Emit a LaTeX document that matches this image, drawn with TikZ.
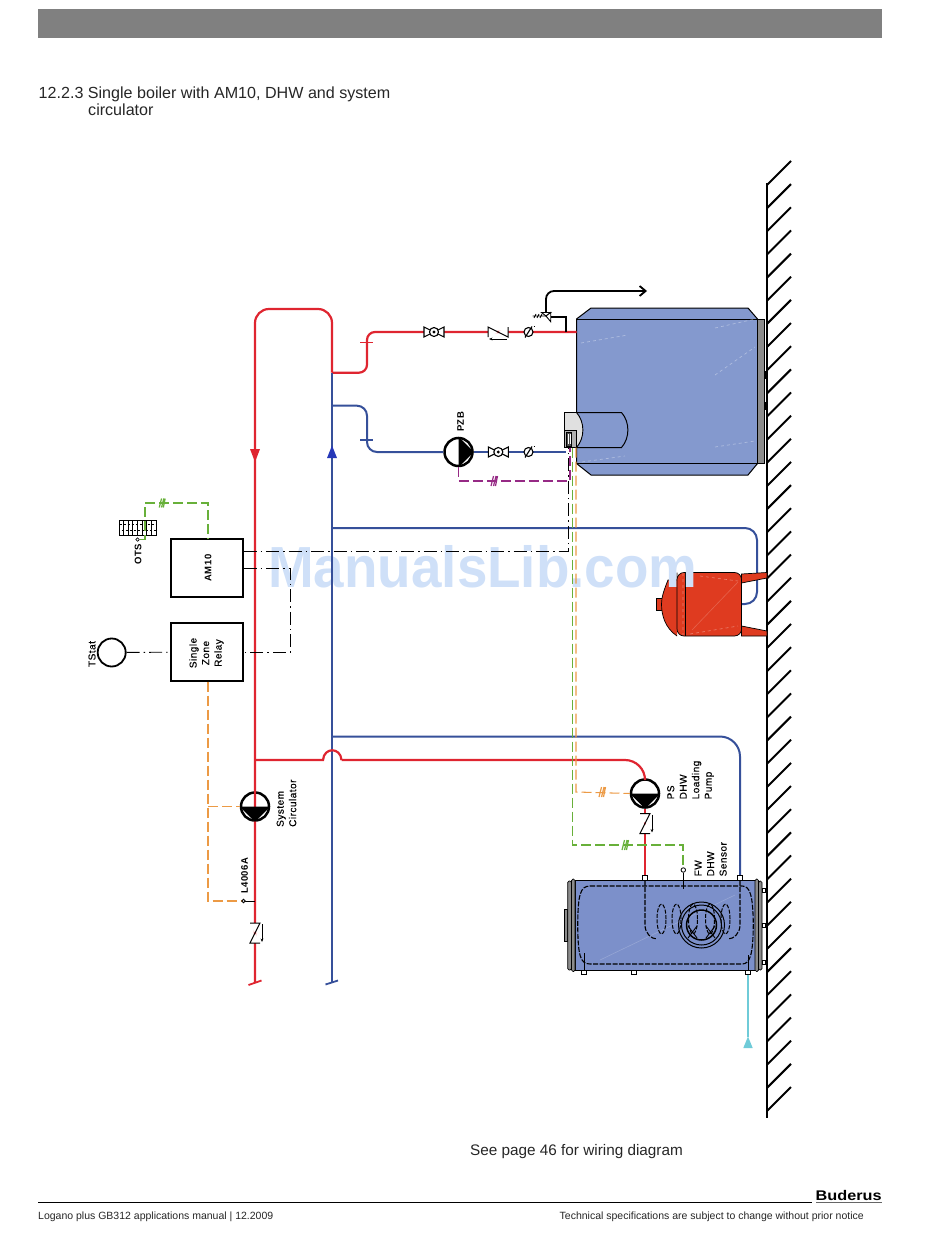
\documentclass[tikz,border=0pt]{standalone}
\usepackage{fontspec}
\setmainfont{Liberation Sans}
\newfontfamily\lblfont[LetterSpace=5,FakeBold=0.3]{Liberation Sans}
\newfontfamily\lblheavy[LetterSpace=5]{Liberation Sans}
\usetikzlibrary{arrows.meta}

\definecolor{boilerblue}{HTML}{8499CE}
\definecolor{tankblue}{HTML}{7C90CA}
\definecolor{hotred}{HTML}{DF2530}
\definecolor{coldblue}{HTML}{36509A}
\definecolor{vesselred}{HTML}{DF3B20}
\definecolor{sigorange}{HTML}{EC9A45}
\definecolor{siggreen}{HTML}{68B03A}
\definecolor{sigpurple}{HTML}{962A85}
\definecolor{coldcyan}{HTML}{6FCBD8}
\definecolor{markclr}{HTML}{CFE0F8}

\tikzset{
  hotpipe/.style={draw=hotred, line width=2.2pt, rounded corners=12pt},
  coldpipe/.style={draw=coldblue, line width=2pt, rounded corners=12pt},
  sigline/.style={line width=1.05pt, dash pattern=on 10pt off 4pt},
  ctrlline/.style={black, line width=0.9pt, dash pattern=on 13pt off 4pt on 1.5pt off 4pt},
  pumpball/.style={circle, draw, fill=white, line width=2.5pt, minimum size=28pt, inner sep=0pt},
  ctrlbox/.style={draw, line width=1.3pt, minimum width=72pt, minimum height=58pt, inner sep=0pt},
  lbl/.style={font=\lblfont\fontsize{10}{12.5}\selectfont, rotate=90, align=left, anchor=north west, inner sep=0pt},
  lblb/.style={font=\lblheavy\bfseries\fontsize{9.5}{12}\selectfont, rotate=90, inner sep=0pt},
  pagetxt/.style={anchor=base west, inner sep=0pt, text=black!85},
  swingcheck/.pic={
    \draw[line width=1pt, fill=white] (-5,-10) -- (5,-10) -- (-5,10) -- (5,10);
    \draw[line width=0.7pt, -{Stealth[length=3.5pt,width=2.8pt]}] (7,-9) -- (7,9);
  },
  ballvalve/.pic={
    \draw[line width=1.1pt, fill=white] (-10,-5) -- (10,5) -- (10,-5) -- (-10,5) -- cycle;
    \draw[line width=1.1pt, fill=white] (0,0) circle [radius=4.5pt];
    \fill (0,0) circle [radius=1.6pt];
  },
  gauge/.pic={
    \draw[line width=1.1pt, fill=white] (0,0) circle [radius=4.5pt];
    \draw[line width=1.1pt] (-3.5,5.5) -- (3.5,-5.5);
    \draw[line width=0.6pt] (5,-6) -- (6.5,-6);
  },
  hashmark/.pic={
    \draw[line width=1.2pt] (-3,5) -- (-0.5,-5) (-0.5,5) -- (2,-5) (1.5,5) -- (3.5,-5);
  },
}

\begin{document}
\begin{tikzpicture}[x=1pt,y=-1pt]
  \useasboundingbox (0,0) rectangle (950,1241);

  % page furniture
  \fill[black!50] (38,9) rectangle (882,38);
  \node[pagetxt, font=\fontsize{16.1}{17}\selectfont] (title) at (38.5,99) {12.2.3 Single boiler with AM10, DHW and system};
  \node[pagetxt, font=\fontsize{16.1}{17}\selectfont] (title2) at (88,116) {circulator};
  \node[pagetxt, font=\fontsize{15.3}{17}\selectfont] (seepage) at (470,1155) {See page 46 for wiring diagram};
  \node[pagetxt, font=\fontsize{10.5}{12}\selectfont] (footl) at (38,1219) {Logano plus GB312 applications manual | 12.2009};
  \node[pagetxt, font=\fontsize{10.5}{12}\selectfont] (footr) at (559.5,1219) {Technical specifications are subject to change without prior notice};
  \node[anchor=base west, inner sep=0pt, font=\bfseries\fontsize{14}{14}\selectfont, xscale=1.16] (brand) at (815.5,1200) {Buderus};
  \draw[line width=0.9pt] (38,1202.5) -- (811.5,1202.5);
  \draw[black!60, line width=1.3pt] (816,1202.5) -- (882,1202.5);

  % wall
  \draw[line width=1.2pt] (767,183) -- (767,1118);
  \foreach \y in {0,...,40}
    \draw[line width=2pt] (767,185+23.15*\y) -- (791,161+23.15*\y);

  % boiler
  \draw[fill=boilerblue, line width=1pt] (576.5,319) -- (591,308) -- (748,308) -- (757.5,319) -- (757.5,463.5) -- (748,475) -- (591,475) -- (576.5,463.5) -- cycle;
  \draw[line width=1pt] (576.5,319) -- (757.5,319) (576.5,463.5) -- (757.5,463.5);
  \draw[fill=black!45, line width=0.5pt] (757.5,319) rectangle (764.5,463.5);
  \foreach \y in {375,406}
    \fill (764.5,\y-4) rectangle (766.5,\y+4);
  \draw[white, opacity=0.35, line width=0.7pt, dashed] (581,343) -- (628,335) (715,328) -- (755,319) (715,375) -- (755,347) (715,447) -- (755,441) (582,462) -- (625,456);

  % burner
  \draw[fill=boilerblue, line width=1pt] (576.5,412.5) -- (621.5,412.5) .. controls (630,422) and (630,438) .. (621.5,447.5) -- (576.5,447.5);
  \draw[fill=black!12, line width=0.9pt] (564.5,412.5) -- (576.5,412.5) .. controls (585,422) and (585,438) .. (576.5,447.5) -- (564.5,447.5) -- cycle;
  \draw[fill=black!30, line width=0.8pt] (564.5,430.5) rectangle (576.5,447.5);
  \draw[fill=black!70, line width=0.5pt] (566.5,432) rectangle (571.5,446);
  \draw[white, line width=0.6pt] (568,434) -- (568,444) (570,434) -- (570,444);

  % expansion vessel and its branch
  \coordinate (mainbranch1) at (332,528);
  \coordinate (vesselin) at (742,604);
  \draw[coldpipe] (mainbranch1) -- (757,528) -- (757,604) -- (vesselin);
  \draw[fill=vesselred, line width=0.7pt] (741.5,574) -- (767,572.5) -- (767,578) -- (741.5,583) -- cycle;
  \draw[fill=vesselred, line width=0.7pt] (741.5,626) -- (767,631) -- (767,636) -- (741.5,636) -- cycle;
  \draw[fill=vesselred, line width=0.7pt] (656.5,598) rectangle (662.5,610);
  \draw[fill=vesselred, line width=0.7pt] (677,572.5) -- (677,580) -- (668,580) .. controls (664,590) and (661.5,597) .. (661.5,604) .. controls (661.5,615) and (665,628) .. (677,636);
  \draw[fill=vesselred, line width=0.7pt, rounded corners=7pt] (677,572.5) -- (741.5,572.5) -- (741.5,636) -- (677,636) -- cycle;
  \draw[line width=0.7pt] (685,572.5) -- (685,636);
  \draw[white, opacity=0.35, line width=0.6pt, dashed] (683,573) -- (683,635) (700,576) -- (738,581) (690,634) -- (738,626);
  \draw[white, opacity=0.2, line width=0.6pt] (692,630) -- (738,582);

  \node[anchor=base west, inner sep=0pt, text=markclr, font=\bfseries\fontsize{58}{58}\selectfont, xscale=0.945] (watermark) at (268,587) {ManualsLib.com};

  % boxes
  \node[ctrlbox] (am10) at (207,568) {};
  \node[lblb] (am10txt) at (208,568) {AM10};
  \node[ctrlbox] (relay) at (207,652) {};
  \node[lbl, anchor=center, align=center] (relaytxt) at (206.5,653) {Single\\Zone\\Relay};
  \node[circle, draw, line width=1.8pt, minimum size=28pt, inner sep=0pt] (tstat) at (111.7,652.5) {};
  \node[lbl, anchor=center] (tstattxt) at (92,654) {TStat};

  % outdoor sensor
  \node[draw, line width=0.9pt, minimum width=37pt, minimum height=15pt, inner sep=0pt] (ots) at (138,527.5) {};
  \foreach \x in {123.6,128.2,132.8,137.4,142,146.6,151.2}
    \draw[line width=0.7pt] (\x,520) -- (\x,535);
  \draw[line width=0.6pt, dash pattern=on 2pt off 2pt] (119.5,524.5) -- (156.5,524.5);
  \draw[line width=0.6pt, dash pattern=on 2pt off 2pt, dash phase=2pt] (119.5,530.5) -- (156.5,530.5);
  \node[circle, draw, line width=0.7pt, fill=white, minimum size=3.5pt, inner sep=0pt] (otsdot) at (137.5,539.5) {};
  \node[lblb] (otstxt) at (138,554) {OTS};

  % hot side
  \coordinate (drop) at (255,983);
  \coordinate (boilerhot) at (576.5,332);
  \coordinate (headerhot) at (332,372.7);
  \node[pumpball] (syspump) at (255,806.5) {};
  \draw[hotpipe, rounded corners=14pt] (drop) -- (255,309) -- (332,309) -- (headerhot);
  \draw[hotpipe, rounded corners=8pt] (headerhot) -- (367,372.7) -- (367,332) -- (boilerhot);
  \draw[draw=hotred, line width=1.2pt] (360,342.5) -- (373,342.5);
  \fill[hotred] (250,449) -- (260,449) -- (255,462) -- cycle;
  \draw[hotred, line width=1.8pt] (248.5,985) -- (261.5,980.5);

  % cold side
  \coordinate (dropc) at (332,983);
  \coordinate (boilercold) at (566,452);
  \node[pumpball] (pzbpump) at (458.5,452) {};
  \draw[coldpipe] (dropc) -- (headerhot);
  \draw[coldpipe, rounded corners=10pt] (332,405.7) -- (367,405.7) -- (367,452) -- (pzbpump);
  \draw[coldpipe] (pzbpump) -- (boilercold);
  \draw[draw=coldblue, line width=1.2pt] (360,440) -- (373,440);
  \fill[coldblue!70!blue] (327,458) -- (337,458) -- (332,445.5) -- cycle;
  \draw[coldblue, line width=1.8pt] (325.5,984.5) -- (338,980.5);

  % loading circuit
  \node[pumpball] (pspump) at (645,793.5) {};
  \coordinate (coilin) at (645,875);
  \coordinate (coilout) at (740,875);
  \coordinate (hop1) at (323,760);
  \coordinate (hop2) at (341.5,760);
  \draw[hotred, line width=2.2pt] (255,760) -- (hop1) .. controls (324,747) and (340.5,747) .. (hop2);
  \draw[hotpipe, rounded corners=20pt] (hop2) -- (645,760) -- (pspump);
  \draw[hotred, line width=2.2pt] (pspump) -- (coilin);
  \draw[coldpipe, rounded corners=20pt] (332,736.5) -- (740,736.5) -- (coilout);

  % storage tank
  \draw[fill=tankblue, line width=1pt] (575,880.5) rectangle (755,970);
  \draw[fill=black!45, line width=0.5pt] (564,909.5) rectangle (567.7,941.5);
  \draw[fill=black!45, line width=0.7pt, rounded corners=1.5pt] (567.7,881) rectangle (571.5,970);
  \draw[fill=black!45, line width=0.7pt, rounded corners=1.5pt] (571.5,879) rectangle (575,971.5);
  \draw[fill=black!45, line width=0.7pt, rounded corners=1.5pt] (755,879) rectangle (758.5,971.5);
  \draw[fill=black!45, line width=0.7pt, rounded corners=1.5pt] (758.5,881) rectangle (762,970);
  \foreach \y in {890,925,962.5}
    \draw[fill=white, line width=0.7pt] (762,\y-2) rectangle (765,\y+2);
  \foreach \x in {645,740}
    \draw[fill=white, line width=0.8pt] (\x-2.5,875) rectangle (\x+2.5,880.5);
  \foreach \x in {584,633.5,748}
    \draw[fill=white, line width=0.8pt] (\x-2.5,970) rectangle (\x+2.5,974.5);
  \draw[line width=0.9pt] (584,970) -- (584,953) (748,970) -- (748,955) (683.3,873) -- (683.3,889);
  \draw[white, opacity=0.2, line width=0.6pt] (600,960) -- (735,895);
  \draw[line width=1.1pt, dash pattern=on 5pt off 1.5pt] (590,886) -- (742,886) .. controls (750,886) and (753,895) .. (753.3,925) .. controls (753,955) and (750,964) .. (742,964) -- (590,964) .. controls (580,964) and (578,955) .. (577.7,925) .. controls (578,895) and (580,886) .. (590,886);
  \draw[line width=1.1pt, dash pattern=on 5pt off 1.5pt] (645,880.5) -- (645,925) .. controls (645,933) and (651,939) .. (657,939) (740,880.5) -- (740,925) .. controls (740,933) and (734,939) .. (728,939);
  \foreach \x in {661.5,676.5,693,710,725.5}
    \draw[line width=1pt, dash pattern=on 4pt off 1.5pt] (\x,919) ellipse [x radius=4.5pt, y radius=15pt];
  \foreach \r in {23,20}
    \draw[line width=1pt] (701.5,925) circle [radius=\r pt];
  \draw[line width=1.5pt] (701.5,925) circle [radius=15pt];
  \draw[line width=0.9pt] (688,938) -- (697,926) (697,938) -- (688,926) (706,938) -- (715,926) (715,938) -- (706,926);

  \coordinate (cyantop) at (748,1036.5);
  \coordinate (tankout) at (748,974.5);
  \draw[coldcyan, line width=2pt] (tankout) -- (cyantop);
  \fill[coldcyan] (748,1036.5) -- (752.7,1048) -- (743.3,1048) -- cycle;

  % pumps, symbols on top of the pipes
  \foreach \p in {syspump,pspump}
    \fill (\p.west) -- (\p.east) -- (\p.south) -- cycle;
  \fill (pzbpump.north) -- (pzbpump.east) -- (pzbpump.south) -- cycle;

  \pic at (434,332) {ballvalve};
  \pic[rotate=-90] at (498,332) {swingcheck};
  \pic at (528.5,332) {gauge};
  \pic at (498.3,452) {ballvalve};
  \pic at (528.5,452) {gauge};
  \pic at (645,823.5) {swingcheck};
  \pic at (255,933) {swingcheck};

  % safety valve
  \coordinate (svalve) at (551,316.7);
  \coordinate (ventend) at (647,291);
  \draw[line width=1.8pt] (566,332) -- (566,316.7) -- (svalve);
  \draw[line width=1.8pt, rounded corners=8pt, -{Straight Barb[length=6pt,width=10pt]}] (546,312) -- (546,291) -- (ventend);
  \draw[line width=0.9pt, fill=white] (546,316) -- (541.5,312.5) -- (550.7,312.5) -- cycle;
  \draw[line width=0.9pt, fill=white] (546,316) -- (550.7,312.5) -- (550.7,321.7) -- cycle;
  \draw[line width=0.8pt] (532.5,316) -- (546,316) (534,318) -- (536,314) (537,318) -- (539,314) (540,318) -- (542,314);

  % control wiring
  \coordinate (panel) at (568.5,447.5);
  \coordinate (panelo) at (576,447.5);
  \coordinate (panelg) at (572.5,447.5);
  \coordinate (wire1) at (290,568.3);
  \coordinate (wire2) at (290,652.5);
  \draw[ctrlline] (tstat) -- (relay);
  \draw[ctrlline] (am10.east |- 0,551.3) -- (568.5,551.3) -- (panel);
  \draw[ctrlline] (am10.east |- wire1) -- (wire1) -- (wire2) -- (relay.east |- wire2);

  \draw[sigline, sigpurple] (pzbpump.south) -- (458.5,481) -- (570,481) -- (570,447.5);
  \pic[sigpurple] at (494,481) {hashmark};

  \draw[sigline, siggreen] (otsdot) -- (145,539.5) -- (145,503) -- (208,503) -- (am10.north -| 208,0);
  \pic[siggreen, scale=0.9] at (162,503) {hashmark};

  \draw[sigline, siggreen] (panelg) -- (572.5,845) -- (683,845) -- (683,867.5);
  \node[circle, draw, line width=0.8pt, fill=white, minimum size=4.5pt, inner sep=0pt] (fwdot) at (683.3,870) {};
  \pic[siggreen] at (625,845) {hashmark};

  \draw[sigline, sigorange] (panelo) -- (576,792) -- (pspump.west);
  \pic[sigorange] at (602,792) {hashmark};

  \coordinate (aquadot) at (243.5,901);
  \draw[sigline, sigorange] (relay.south -| 208,0) -- (208,901) -- (aquadot);
  \draw[sigline, sigorange] (208,806.5) -- (syspump.west);
  \draw[line width=0.8pt] (aquadot) -- (255,901);
  \node[circle, draw, line width=0.8pt, fill=white, minimum size=3.5pt, inner sep=0pt] (aquacirc) at (aquadot) {};

  % labels
  \node[lblb] (pzbtxt) at (460.5,422) {PZB};
  \node[lblb, anchor=west] (l4006) at (244.5,894) {L4006A};
  \node[lbl] (systxt) at (276.5,827) {System\\Circulator};
  \node[lbl] (pstxt) at (667,799.5) {PS\\DHW\\Loading\\Pump};
  \node[lbl] (fwtxt) at (694.5,876.5) {FW\\DHW\\Sensor};
\end{tikzpicture}
\end{document}
